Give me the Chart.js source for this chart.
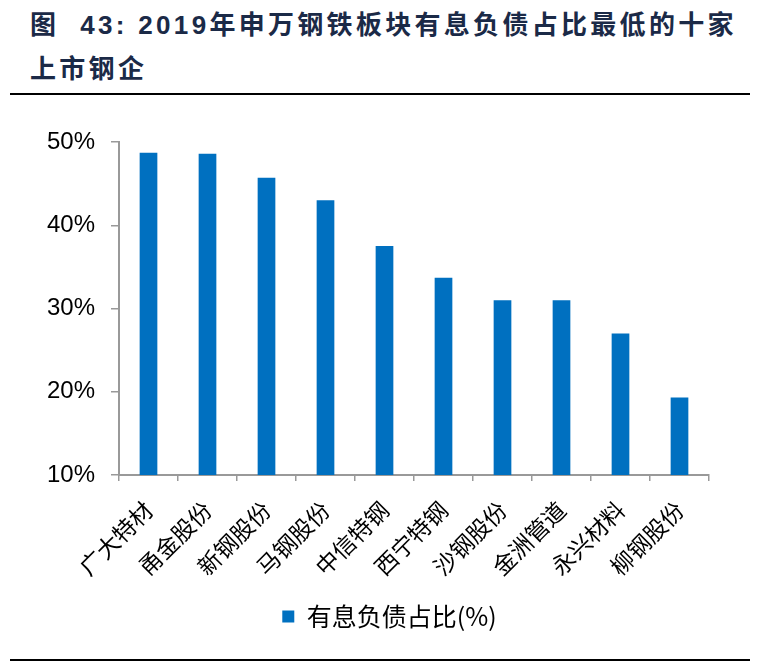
<!DOCTYPE html>
<html>
<head>
<meta charset="utf-8">
<script src="https://cdn.jsdelivr.net/npm/chart.js@4/dist/chart.umd.min.js"></script>
<style>
  html, body { margin: 0; padding: 0; background: #fff; }
  body { width: 762px; height: 663px; position: relative; overflow: hidden; }
  .title { position: absolute; left: 30px; top: 3px; width: 730px;
    font-family: "Liberation Sans", "Noto Sans CJK SC", sans-serif; font-weight: bold;
    font-size: 26px; line-height: 44px; color: #1b2a47; letter-spacing: 3.3px; }
  .rule { position: absolute; left: 10px; width: 740px; height: 2px; background: #000; }
  #wrap { position: absolute; left: 0; top: 100px; width: 762px; height: 555px; }
</style>
</head>
<body>
<div class="title">图&nbsp; 43: 2019年申万钢铁板块有息负债占比最低的十家<br>上市钢企</div>
<div class="rule" style="top:93px"></div>
<div id="wrap"><canvas id="c" width="762" height="555"></canvas></div>
<div class="rule" style="top:659px"></div>
<script>
const categories = ["广大特材", "甬金股份", "新钢股份", "马钢股份", "中信特钢", "西宁特钢", "沙钢股份", "金洲管道", "永兴材料", "柳钢股份"];
const seriesName = "有息负债占比(%)";
const debtRatio = [48.7, 48.6, 45.7, 43.0, 37.5, 33.7, 31.0, 31.0, 27.0, 19.3];
const yTicks = [10, 20, 30, 40, 50];

Chart.defaults.font.family = '"Liberation Sans", "Noto Sans CJK SC", sans-serif';
Chart.defaults.color = '#000';

const legendShift = {
  id: 'legendShift',
  afterLayout(chart) {
    const lg = chart.legend;
    if (lg && !lg._shifted) {
      const orig = lg.draw;
      lg.draw = function () {
        const c = this.ctx;
        c.save();
        c.translate(35, 0);
        orig.apply(this, arguments);
        c.restore();
      };
      lg._shifted = true;
    }
  }
};

new Chart(document.getElementById('c'), {
  type: 'bar',
  data: {
    labels: categories,
    datasets: [{
      label: seriesName,
      data: debtRatio,
      backgroundColor: '#0070C0',
      borderWidth: 0,
      barPercentage: 0.3,
      categoryPercentage: 1.0
    }]
  },
  plugins: [legendShift],
  options: {
    responsive: false,
    animation: false,
    devicePixelRatio: 1,
    layout: { padding: { left: 0, right: 53, top: 42, bottom: 16 } },
    plugins: {
      legend: {
        position: 'bottom',
        labels: {
          boxWidth: 12, boxHeight: 12, padding: 10,
          font: { size: 25, family: '"Noto Sans CJK SC", sans-serif' },
          color: '#000'
        }
      },
      tooltip: { enabled: false }
    },
    scales: {
      x: {
        offset: true,
        grid: { display: true, drawOnChartArea: false, offset: true, color: '#999', lineWidth: 1.5, tickLength: 6 },
        border: { display: true, color: '#999', width: 2 },
        ticks: {
          minRotation: 45, maxRotation: 45, padding: 15,
          font: { size: 23, family: '"Noto Sans CJK SC", sans-serif' },
          color: '#000'
        },
        afterFit: s => { s.height = 119; }
      },
      y: {
        min: 10, max: 50,
        afterBuildTicks: s => { s.ticks = yTicks.map(v => ({ value: v })); },
        grid: { display: true, drawOnChartArea: false, color: '#999', lineWidth: 1.5, tickLength: 8 },
        border: { display: true, color: '#999', width: 2 },
        ticks: {
          padding: 16,
          font: { size: 24 },
          color: '#000',
          callback: v => v + '%'
        },
        afterFit: s => { s.width = 119; }
      }
    }
  }
});
</script>
</body>
</html>
